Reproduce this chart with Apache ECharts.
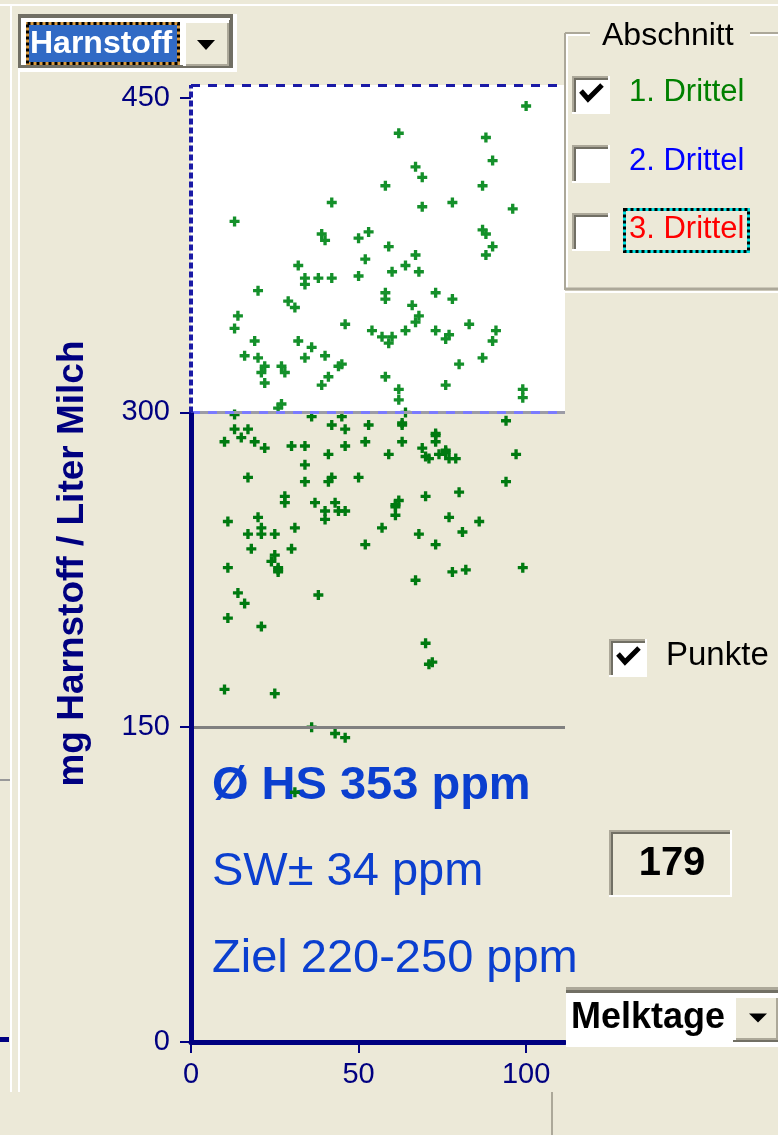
<!DOCTYPE html>
<html>
<head>
<meta charset="utf-8">
<script src="https://cdn.jsdelivr.net/npm/echarts@6/dist/echarts.min.js"></script>
<style>
  html, body { margin: 0; padding: 0; background: #ece9d8; }
  #chart { width: 778px; height: 1135px; }
</style>
</head>
<body>
<div id="chart"></div>
<script>
// Melktage (x) und Harnstoff in mg/l (y), 1. Drittel
const melktage = [
  100, 62, 88, 90, 67, 69, 58, 87, 42, 78,
  69, 96, 13, 39, 40, 50, 53, 87, 88, 59,
  67, 90, 88, 64, 60, 68, 32, 34, 34, 38,
  42, 50, 52, 20, 29, 31, 14, 13, 46, 54,
  19, 32, 36, 16, 20, 40, 34, 22, 21, 22,
  27, 28, 44, 45, 41, 39, 27, 26, 58, 58,
  73, 78, 66, 68, 67, 64, 73, 83, 91, 57,
  60, 59, 77, 76, 90, 87, 80, 58, 62, 62,
  76, 99, 99,
  13, 36, 45, 64, 13, 17, 15, 10, 19, 22,
  30, 34, 42, 46, 53, 46, 52, 41, 34, 17,
  34, 41, 42, 50, 28, 28, 37, 43, 40, 40,
  44, 46, 11, 20, 31, 21, 21, 17, 25, 52,
  18, 30, 25, 24, 26, 26, 11, 57, 94, 63,
  73, 73, 63, 69, 59, 71, 74, 76, 77, 79,
  97, 94, 70, 80, 62, 61, 61, 77, 86, 68,
  81, 73, 99, 78, 82, 67, 14, 16, 38, 11,
  21, 70, 71, 72, 10, 25, 36, 43, 46, 31,
  63, 73, 70, 61, 76, 26
];
const harnstoff = [
  446, 433, 431, 420, 417, 412, 408, 408, 400, 400,
  398, 397, 391, 385, 382, 383, 386, 387, 385, 379,
  375, 379, 375, 370, 367, 367, 370, 364, 361, 364,
  364, 365, 373, 358, 353, 350, 346, 340, 342, 339,
  334, 334, 331, 327, 326, 327, 326, 322, 319, 314,
  322, 319, 322, 323, 317, 313, 304, 302, 357, 354,
  357, 354, 351, 346, 343, 339, 339, 342, 339, 336,
  336, 333, 337, 335, 334, 326, 323, 317, 311, 306,
  313, 311, 307,
  299, 298, 298, 300, 292, 292, 288, 286, 286, 283,
  284, 284, 294, 292, 294, 284, 286, 280, 275, 269,
  267, 267, 269, 269, 260, 257, 257, 257, 253, 249,
  253, 253, 248, 250, 245, 245, 242, 242, 242, 237,
  235, 235, 232, 229, 226, 224, 226, 245, 296, 294,
  289, 286, 286, 283, 280, 278, 280, 281, 278, 278,
  280, 267, 260, 262, 258, 255, 251, 250, 248, 242,
  243, 237, 226, 224, 225, 220, 214, 209, 213, 202,
  198, 190, 180, 181, 168, 166, 150, 147, 145, 119,
  295, 290, 279, 256, 282, 225
];
const yTicks = [0, 150, 300, 450];
const xTicks = [0, 50, 100];
const grenzen = [150, 300];   // graue Linie, Obergrenze
const yMax = 456;
const xMax = 111.6;

const infoTexte = ['Ø HS 353 ppm', 'SW± 34 ppm', 'Ziel 220-250 ppm'];
const abschnitte = ['1. Drittel', '2. Drittel', '3. Drittel'];
const anzahl = '179';

const FONT = '"Liberation Sans", Arial, sans-serif';
const NAVY = '#000080';

// kleine Helfer fuer die Fenster-Elemente
function rect(x, y, w, h, fill, z) {
  return { type: 'rect', silent: true, z: z || 10, shape: { x: x, y: y, width: w, height: h }, style: { fill: fill } };
}
function txt(s, x, y, font, fill, z) {
  return { type: 'text', silent: true, z: z || 10,
    style: { text: s, x: x, y: y, font: font + ' ' + FONT, fill: fill, textVerticalAlign: 'middle' } };
}
function line(x1, y1, x2, y2, stroke, w) {
  return { type: 'line', silent: true, z: 10, shape: { x1: x1, y1: y1, x2: x2, y2: y2 }, style: { stroke: stroke, lineWidth: w } };
}
function sunken(x, y, w, h, fill) {
  return [
    rect(x, y, w, h, '#ffffff'),
    rect(x, y, w - 2, h - 2, '#aca899'),
    rect(x + 2, y + 2, w - 4, h - 4, '#716f64'),
    rect(x + 4, y + 4, w - 6, h - 6, fill)
  ];
}
function raised(x, y, w, h) {
  return [
    rect(x, y, w, h, '#716f64'),
    rect(x, y, w - 2, h - 2, '#ffffff'),
    rect(x + 3, y + 3, w - 5, h - 5, '#aca899'),
    rect(x + 3, y + 3, w - 7, h - 7, '#ece9d8')
  ];
}
function tri(cx, cy, w, h) {
  return { type: 'polygon', silent: true, z: 11,
    shape: { points: [[cx - w / 2, cy - h / 2], [cx + w / 2, cy - h / 2], [cx, cy + h / 2]] }, style: { fill: '#000' } };
}
function haken(x, y) {
  return { type: 'polyline', silent: true, z: 11,
    shape: { points: [[x, y + 6], [x + 7, y + 14], [x + 21, y]] },
    style: { stroke: '#000', lineWidth: 5, fill: null } };
}

const widgets = [].concat(
  // Fensterrahmen
  [line(0, 5, 778, 5, '#ffffff', 2), line(11, 5, 11, 1092, '#ffffff', 2), line(19, 70, 19, 1092, '#ffffff', 2),
   line(552, 1092, 552, 1135, '#aca899', 2), rect(0, 1037, 9, 5, NAVY), rect(0, 779, 10, 2, '#999999')],
  // Auswahl Harnstoff
  [rect(18, 14, 219, 58, '#ffffff'), rect(18, 14, 215, 54, '#716f64'), rect(21, 18, 209, 47, '#ffffff'),
   { type: 'rect', silent: true, z: 10, shape: { x: 27.5, y: 23.5, width: 151, height: 40 },
     style: { fill: '#316ac5', stroke: '#d89a40', lineWidth: 3 } },
   { type: 'rect', silent: true, z: 10, shape: { x: 27.5, y: 23.5, width: 151, height: 40 },
     style: { fill: null, stroke: '#000', lineWidth: 3, lineDash: [3, 3] } },
   txt('Harnstoff', 30, 44, 'bold 32px', '#ffffff')],
  raised(183, 20, 48, 48),
  [tri(206, 45, 18, 10)],
  // Gruppe Abschnitt
  [line(565, 33, 590, 33, '#aca899', 2), line(565, 35, 590, 35, '#ffffff', 2),
   line(750, 33, 778, 33, '#aca899', 2), line(750, 35, 778, 35, '#ffffff', 2),
   line(565, 33, 565, 290, '#aca899', 2), line(567, 35, 567, 288, '#ffffff', 2),
   line(565, 289, 778, 289, '#aca899', 3), line(565, 292, 778, 292, '#ffffff', 2),
   txt('Abschnitt', 602, 36, '32px', '#000000')],
  sunken(572, 76, 38, 38, '#ffffff'), [haken(581, 85)],
  sunken(572, 145, 38, 38, '#ffffff'),
  sunken(572, 213, 38, 38, '#ffffff'),
  [txt(abschnitte[0], 629, 92, '31px', '#008000'),
   txt(abschnitte[1], 629, 161, '31px', '#0000ff'),
   { type: 'rect', silent: true, z: 10, shape: { x: 624.5, y: 209.5, width: 124, height: 42 },
     style: { fill: null, stroke: '#00e0e0', lineWidth: 3 } },
   { type: 'rect', silent: true, z: 10, shape: { x: 624.5, y: 209.5, width: 124, height: 42 },
     style: { fill: null, stroke: '#000', lineWidth: 3, lineDash: [3, 3] } },
   txt(abschnitte[2], 629, 229, '31px', '#ff0000')],
  // Punkte
  sunken(609, 639, 38, 38, '#ffffff'), [haken(618, 648), txt('Punkte', 666, 656, '33px', '#000000')],
  // Anzahl
  sunken(609, 830, 123, 67, '#ece9d8'),
  [{ type: 'text', silent: true, z: 11,
     style: { text: anzahl, x: 672, y: 864, font: 'bold 40px ' + FONT, fill: '#000', textAlign: 'center', textVerticalAlign: 'middle' } }],
  // Auswahl Melktage
  [rect(566, 987, 212, 3, '#aca899'), rect(566, 990, 212, 3, '#716f64'), rect(566, 993, 212, 54, '#ffffff'),
   txt('Melktage', 571, 1018, 'bold 36px', '#000000')],
  raised(733, 995, 47, 47),
  [tri(758, 1018, 18, 9)],
  // Kennzahlen
  [txt(infoTexte[0], 212, 786, 'bold 47px', '#0b3fcf', 1),
   txt(infoTexte[1], 212, 872, '47px', '#0b3fcf', 1),
   txt(infoTexte[2], 212, 959, '47px', '#0b3fcf', 1)]
);

const punkte = melktage.map(function (d, i) { return [d, harnstoff[i]]; });

const chart = echarts.init(document.getElementById('chart'));
chart.setOption({
  backgroundColor: '#ece9d8',
  animation: false,
  grid: { left: 191, top: 85, width: 374, height: 957, containLabel: false, outerBoundsMode: 'none' },
  xAxis: {
    type: 'value', min: 0, max: xMax,
    axisLine: { show: true, onZero: false, lineStyle: { color: NAVY, width: 5 } },
    axisTick: { show: true, customValues: xTicks, length: 11, lineStyle: { color: NAVY, width: 2 } },
    axisLabel: { customValues: xTicks, color: NAVY, fontSize: 29, fontFamily: FONT, margin: 18 },
    splitLine: { show: false }
  },
  yAxis: {
    type: 'value', min: 0, max: yMax,
    name: 'mg Harnstoff / Liter Milch', nameLocation: 'middle', nameRotate: 90, nameGap: 100,
    nameTextStyle: { color: NAVY, fontSize: 37, fontWeight: 'bold', fontFamily: FONT },
    axisLine: { show: false },
    axisTick: { show: true, customValues: yTicks, length: 11, lineStyle: { color: NAVY, width: 2 } },
    axisLabel: { customValues: yTicks, color: NAVY, fontSize: 29, fontFamily: FONT, margin: 21 },
    splitLine: { show: false }
  },
  graphic: { elements: widgets },
  series: [
    {
      type: 'scatter', data: [], z: 1, silent: true,
      markArea: {
        silent: true, itemStyle: { color: '#ffffff', opacity: 1 },
        data: [[{ yAxis: grenzen[1] }, { yAxis: yMax }]]
      }
    },
    {
      type: 'scatter', name: '1. Drittel', z: 2, silent: true,
      symbol: 'path://M3,0h3v3h3v3h-3v3h-3v-3h-3v-3h3z', symbolSize: 10,
      itemStyle: { opacity: 1, color: function (p) { return p.value[1] > grenzen[1] ? '#14902a' : '#007a10'; } },
      data: punkte
    },
    {
      type: 'scatter', data: [], z: 3, silent: true,
      markLine: {
        silent: true, symbol: 'none', label: { show: false },
        data: [
          { yAxis: grenzen[1], lineStyle: { color: '#9c9ca6', width: 3, type: 'solid' } },
          { yAxis: grenzen[1], lineStyle: { color: '#7b7bff', width: 3, type: [9, 8] } },
          { yAxis: grenzen[0], lineStyle: { color: '#808080', width: 3, type: 'solid' } },
          { yAxis: yMax, lineStyle: { color: '#1a1aa6', width: 3, type: [9, 8] } },
          [{ coord: [0, 0], lineStyle: { color: NAVY, width: 5, type: 'solid' } }, { coord: [0, grenzen[1]] }],
          [{ coord: [0, grenzen[1]], lineStyle: { color: '#1a1aa6', width: 4, type: [6, 3] } }, { coord: [0, yMax] }]
        ]
      }
    }
  ]
});
</script>
</body>
</html>
